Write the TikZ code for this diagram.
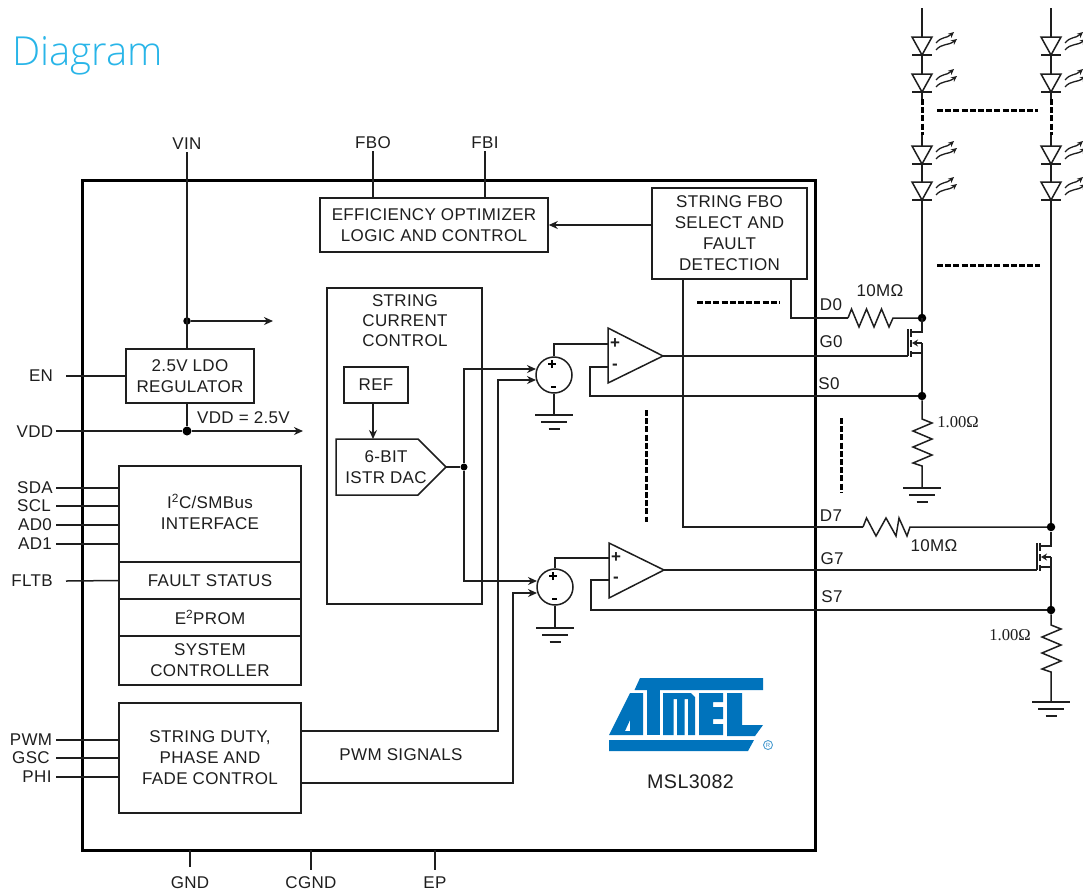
\documentclass[tikz,border=0pt]{standalone}
\usepackage{fontspec}
\setmainfont[LetterSpace=2]{Liberation Sans}
\newfontfamily\serifface{Liberation Serif}
\newfontfamily\titleface{Open Sans Light}
\usetikzlibrary{arrows.meta}
\definecolor{titleblue}{HTML}{29B5E8}
\definecolor{atmelblue}{HTML}{0073BC}
\definecolor{ink}{HTML}{1E1E1E}
\tikzset{
  wire/.style={draw=ink,line width=1.5pt},
  arrowwire/.style={wire,-{Stealth[length=9pt,width=8pt]}},
  block/.style={draw=ink,line width=1.5pt,fill=white,align=center,text=ink,font=\fontsize{17}{21}\selectfont,inner sep=0pt},
  lbl/.style={text=ink,font=\fontsize{17}{21}\selectfont,inner sep=0pt,align=center},
  dotn/.style={circle,fill=black,inner sep=0pt,minimum size=#1},
  dotn/.default=8pt,
  heavy/.style={draw=black,line width=3pt,dash pattern=on 6pt off 2.2pt},
  logo/.style={fill=atmelblue,draw=none},
  sumc/.style={circle,draw=ink,line width=1.5pt,minimum size=36pt,inner sep=0pt},
  opsign/.style={text=ink,inner sep=0pt,font=\bfseries\fontsize{17}{17}\selectfont},
}
\newcommand{\ledsym}[2]{%
  \draw[wire,fill=white] (#1-10,#2) -- (#1+10,#2) -- (#1,#2+18) -- cycle;
  \draw[wire] (#1-10,#2+18) -- (#1+10,#2+18);
  \draw[draw=ink,line width=1.3pt,-{Stealth[length=6pt,width=5.5pt]}] (#1+14,#2+6) .. controls (#1+20,#2-1) and (#1+24,#2+2) .. (#1+32,#2-5);
  \draw[draw=ink,line width=1.3pt,-{Stealth[length=6pt,width=5.5pt]}] (#1+14,#2+13) .. controls (#1+20,#2+6) and (#1+26,#2+9) .. (#1+35,#2+2);
}
\newcommand{\gndsym}[2]{%
  \draw[wire] (#1-19,#2) -- (#1+19,#2);
  \draw[wire] (#1-13,#2+7) -- (#1+13,#2+7);
  \draw[wire] (#1-5.5,#2+14) -- (#1+5.5,#2+14);
}
\newcommand{\fetsym}[2]{%
  \draw[wire] (#1-14,#2+26) -- (#1-14,#2-1);
  \draw[draw=ink,line width=2pt] (#1-11,#2-1) -- (#1-11,#2+7);
  \draw[draw=ink,line width=2pt] (#1-11,#2+10) -- (#1-11,#2+17);
  \draw[draw=ink,line width=2pt] (#1-11,#2+21) -- (#1-11,#2+27);
  \draw[wire] (#1-11,#2+2) -- (#1,#2+2) -- (#1,#2-12);
  \draw[wire] (#1-11,#2+23) -- (#1,#2+23);
  \draw[wire,-{Stealth[length=6pt,width=7pt]}] (#1,#2+13) -- (#1-10,#2+13);
  \draw[wire] (#1,#2+13) -- (#1,#2+26);
}
\begin{document}
\begin{tikzpicture}[x=1pt,y=-1pt]
\useasboundingbox (0,0) rectangle (1083,892);
\clip (0,0) rectangle (1083,892);
\node[anchor=base west,inner sep=0pt,text=titleblue,font=\titleface\fontsize{40}{42}\selectfont] (title) at (12,65) {Diagram};

% chip outline
\draw[draw=black,line width=3pt] (82,180) rectangle (815,850);

% LED strings
\coordinate (acol) at (922,8);
\coordinate (bcol) at (1051,8);
\coordinate (d0n) at (922,318);
\coordinate (s0n) at (922,396);
\coordinate (d7n) at (1051,527);
\coordinate (s7n) at (1051,610);
\coordinate (a1) at (922,99);
\coordinate (a2) at (922,135);
\coordinate (b1) at (1051,99);
\coordinate (b2) at (1051,135);
\draw[wire] (acol) -- (a1);
\draw[wire] (a2) -- (d0n);
\draw[wire] (bcol) -- (b1);
\draw[wire] (b2) -- (d7n);
\draw[heavy] (a1) -- (a2);
\draw[heavy] (b1) -- (b2);
\foreach \cx in {922,1051}{
  \ledsym{\cx}{37}
  \ledsym{\cx}{74}
  \ledsym{\cx}{146}
  \ledsym{\cx}{182}
}
\draw[heavy] (937,110) -- (1038,110);
\draw[heavy] (937,265) -- (1040,265);
\draw[heavy] (697,302) -- (780,302);
\draw[heavy] (646,410) -- (646,522);
\draw[heavy] (841,418) -- (841,492);

% top pins
\node[lbl] (vin) at (187,144) {VIN};
\node[lbl] (fbo) at (373,143) {FBO};
\node[lbl] (fbi) at (485,143) {FBI};
\node[block,minimum width=228pt,minimum height=54pt] (eff) at (434,225) {EFFICIENCY OPTIMIZER\\LOGIC AND CONTROL};
\draw[wire] (fbo.south) ++(0,2) -- (fbo.south |- eff.north);
\draw[wire] (fbi.south) ++(0,2) -- (fbi.south |- eff.north);
\node[block,minimum width=155pt,minimum height=91pt] (sel) at (729.5,233.5) {STRING FBO\\SELECT AND\\FAULT\\DETECTION};
\draw[arrowwire] (sel.west |- eff.east) -- (eff.east);

% LDO
\node[block,minimum width=128pt,minimum height=54pt] (ldo) at (190,376) {2.5V LDO\\REGULATOR};
\coordinate (vinbot) at (187,349);
\coordinate (ldobot) at (187,403);
\node[dotn=7.5pt] (vdot) at (187,321) {};
\node[dotn=9pt] (vdd) at (187,431) {};
\coordinate (vout) at (273,321);
\coordinate (vddout) at (303,431);
\draw[wire] (vin.south) ++(0,2) -- (vinbot);
\draw[arrowwire] (vdot) -- (vout);
\draw[wire] (ldobot) -- (vdd);
\node[lbl] (en) at (41,376) {EN};
\node[lbl] (vddl) at (35,432) {VDD};
\coordinate (enl) at (66,376);
\coordinate (vddlft) at (56,431);
\draw[wire] (enl) -- (ldo.west);
\draw[wire] (vddlft) -- (vdd);
\draw[arrowwire] (vdd) -- (vddout);
\node[lbl] (vddv) at (243.5,418) {VDD = 2.5V};

% string current control
\node[block,minimum width=155pt,minimum height=316pt] (scc) at (404.5,446) {};
\node[lbl,anchor=north,font=\fontsize{17}{20.3}\selectfont] (scct) at (405,294) {STRING\\CURRENT\\CONTROL};
\node[block,minimum width=64pt,minimum height=36pt] (ref) at (376,385) {REF};
\draw[wire,fill=white] (336,439) -- (418,439) -- (446,467) -- (418,495) -- (336,495) -- cycle;
\node[lbl] (dac) at (386,467) {6-BIT\\ISTR DAC};
\coordinate (dact) at (373,439);
\coordinate (dacr) at (446,467);
\draw[arrowwire] (373,403) -- (dact);
\node[dotn=7pt] (bus) at (464,467) {};
\draw[wire] (dacr) -- (bus);

% summers
\node[sumc] (sum0) at (554,375) {};
\node[sumc] (sum7) at (555,587) {};
\foreach \s in {sum0,sum7}{
  \draw[draw=black,line width=1.5pt] ([xshift=-6pt,yshift=11pt]\s.center) -- ([xshift=2pt,yshift=11pt]\s.center);
  \draw[draw=black,line width=1.5pt] ([xshift=-2pt,yshift=7pt]\s.center) -- ([xshift=-2pt,yshift=15pt]\s.center);
  \draw[draw=black,line width=2pt] ([xshift=-3pt,yshift=-12pt]\s.center) -- ([xshift=2pt,yshift=-12pt]\s.center);
}
\coordinate (g0) at (554,415);
\coordinate (g7) at (555,628);
\draw[wire] (sum0.south) -- (g0);
\draw[wire] (sum7.south) -- (g7);
\gndsym{554}{415}
\gndsym{555}{628}

% op amps
\draw[wire,fill=white] (608,328) -- (663,356) -- (608,383) -- cycle;
\draw[wire,fill=white] (609,543) -- (664,570) -- (609,598) -- cycle;
\node[opsign] (p0) at (615,344) {+};
\node[opsign] (m0) at (615,367) {-};
\node[opsign] (p7) at (616,558) {+};
\node[opsign] (m7) at (616,580) {-};
\coordinate (op0p) at (608,344);
\coordinate (op0m) at (608,367);
\coordinate (op7p) at (609,558);
\coordinate (op7m) at (609,580);
\draw[wire] (sum0.north) -- (sum0.north |- op0p) -- (op0p);
\draw[wire] (sum7.north) -- (sum7.north |- op7p) -- (op7p);
\draw[wire] (op0m) -- (590,367) -- (590,396) -- (s0n);
\draw[wire] (op7m) -- (591,580) -- (591,610) -- (s7n);

% DAC bus to summers
\coordinate (s0a) at (536,369);
\coordinate (s0b) at (536,380);
\coordinate (s7a) at (537,581);
\coordinate (s7b) at (537,593);
\draw[arrowwire] (bus) -- (464,369) -- (s0a);
\draw[arrowwire] (bus) -- (464,581) -- (s7a);

% left blocks
\node[block,minimum width=182pt,minimum height=96pt] (i2c) at (210,514) {};
\node[lbl] (i2ct) at (210,512) {I\textsuperscript{2}C/SMBus\\INTERFACE};
\node[block,minimum width=182pt,minimum height=37pt] (fault) at (210,580.5) {FAULT STATUS};
\node[block,minimum width=182pt,minimum height=37pt] (e2) at (210,617.5) {E\textsuperscript{2}PROM};
\node[block,minimum width=182pt,minimum height=49pt] (sys) at (210,660.5) {SYSTEM\\CONTROLLER};
\node[block,minimum width=182pt,minimum height=110pt] (duty) at (210,758) {STRING DUTY,\\PHASE AND\\FADE CONTROL};
\foreach \nm/\yy/\tx in {SDA/488/35,SCL/506/34,AD0/525/35,AD1/544/35}{
  \node[lbl] (pin\nm) at (\tx,\yy) {\nm};
  \coordinate (end\nm) at (56,\yy);
  \draw[wire] (end\nm) -- (119,\yy);
}
\node[lbl] (fltb) at (32,581) {FLTB};
\coordinate (fltbe) at (66,581);
\draw[wire] (fltbe) -- (fault.west);
\node[lbl] (pwm) at (31,740) {PWM};
\node[lbl] (gsc) at (31,758) {GSC};
\node[lbl] (phi) at (37,777) {PHI};
\foreach \yy in {740,758,777}{
  \coordinate (e\yy) at (56,\yy);
  \draw[wire] (e\yy) -- (119,\yy);
}
\draw[arrowwire] (301,731) -- (498,731) -- (498,380) -- (s0b);
\draw[arrowwire] (301,783) -- (513,783) -- (513,593) -- (s7b);
\node[lbl] (pwms) at (401,755) {PWM SIGNALS};

% bottom pins
\node[lbl] (gnd) at (190,883) {GND};
\node[lbl] (cgnd) at (311,883) {CGND};
\node[lbl] (ep) at (435,883) {EP};
\coordinate (gndt) at (190,850);
\coordinate (cgndt) at (311,850);
\coordinate (ept) at (435,850);
\draw[wire] (gndt) -- (190,867);
\draw[wire] (cgndt) -- (311,870);
\draw[wire] (ept) -- (435,870);

% outputs
\draw[wire] (663,356) -- (908,356);
\draw[wire] (664,570) -- (1037,570);
\draw[wire] (683,279) -- (683,527) -- (863,527);
\draw[wire] (791,279) -- (791,318) -- (848,318);
\draw[wire] (848,318) -- (851.5,309) -- (859,327) -- (866.5,309) -- (874,327) -- (881.5,309) -- (889,327) -- (893,318) -- (d0n);
\draw[wire] (863,527) -- (866.5,518) -- (876,536) -- (886,518) -- (896,536) -- (899,518) -- (907,536) -- (910,527) -- (d7n);
\node[dotn=8.5pt] (dd0) at (d0n) {};
\node[dotn=8.5pt] (ds0) at (s0n) {};
\node[dotn=8.5pt] (dd7) at (d7n) {};
\node[dotn=8.5pt] (ds7) at (s7n) {};
\fetsym{922}{330}
\fetsym{1051}{544}
\draw[wire] (922,356) -- (ds0);
\draw[wire] (1051,570) -- (ds7);
% sense resistors
\draw[wire] (ds0) -- (922,419) -- (932,423) -- (913,431) -- (932,439) -- (913,447) -- (932,455) -- (913,463) -- (922,466) -- (922,488);
\gndsym{922}{488}
\draw[wire] (ds7) -- (1051,625) -- (1061,629) -- (1042,637) -- (1061,645) -- (1042,653) -- (1061,661) -- (1042,669) -- (1051,672) -- (1051,702);
\gndsym{1051}{702}

% pin and value labels
\node[lbl] (d0) at (831,305) {D0};
\node[lbl] (g0l) at (831,342) {G0};
\node[lbl] (s0) at (829,384) {S0};
\node[lbl] (d7) at (831,516) {D7};
\node[lbl] (g7l) at (832,559) {G7};
\node[lbl] (s7) at (832,597) {S7};
\node[lbl] (r1) at (880,291) {10MΩ};
\node[lbl] (r2) at (934,546) {10MΩ};
\node[lbl,font=\serifface\fontsize{16.6}{20}\selectfont] (r3) at (958,422) {1.00Ω};
\node[lbl,font=\serifface\fontsize{16.6}{20}\selectfont] (r4) at (1010,635) {1.00Ω};

% logo
\fill[logo] (640,678) -- (763,678) -- (763,690) -- (634.5,690) -- cycle;
\fill[logo,even odd rule] (630,693) -- (643,693) -- (643,735) -- (609,735) -- cycle (625,731) -- (630,720) -- (630,731) -- cycle;
\fill[logo] (647,690) rectangle (660,735);
\fill[logo] (663,693) -- (691,693) -- (695,697) -- (695,735) -- (688,735) -- (688,699) -- (684.5,699) -- (684.5,735) -- (677,735) -- (677,699) -- (673.5,699) -- (673.5,735) -- (663,735) -- cycle;
\fill[logo] (699,693) -- (723,693) -- (723,702) -- (713,702) -- (713,707) -- (723,707) -- (723,719) -- (713,719) -- (713,724) -- (723,724) -- (723,735) -- (699,735) -- cycle;
\fill[logo] (727,693) -- (742,693) -- (742,725) -- (763,725) -- (755,736) -- (727,736) -- cycle;
\fill[logo] (609,740) -- (754,740) -- (748,751) -- (609,751) -- cycle;
\node[circle,draw=atmelblue!70,line width=0.9pt,minimum size=9pt,inner sep=0pt,text=atmelblue!80,font=\fontsize{6}{6}\selectfont] (reg) at (768,745) {R};
\node[lbl,font=\fontsize{19.7}{24}\selectfont] (part) at (690.5,782) {MSL3082};
\end{tikzpicture}
\end{document}
